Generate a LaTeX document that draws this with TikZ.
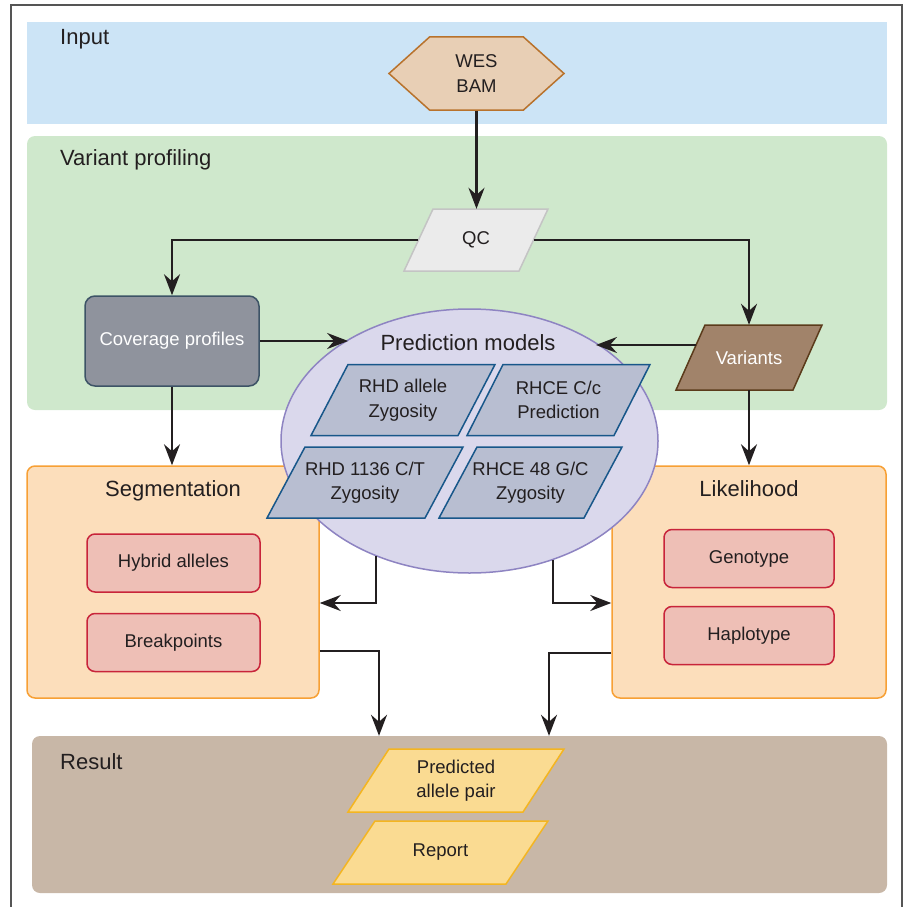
\documentclass[tikz,border=0pt]{standalone}
\usepackage{fontspec}
\setmainfont{Liberation Sans}
\usetikzlibrary{shapes.geometric,shapes.symbols,arrows.meta,calc}
\definecolor{ink}{HTML}{231F20}
\definecolor{framecol}{HTML}{555555}
\definecolor{inbg}{HTML}{CCE4F6}
\definecolor{vpbg}{HTML}{CFE8CC}
\definecolor{resbg}{HTML}{C8B7A7}
\definecolor{segbg}{HTML}{FCDEBB}
\definecolor{segbd}{HTML}{F7A035}
\definecolor{wesbg}{HTML}{E8CFB5}
\definecolor{wesbd}{HTML}{B8722C}
\definecolor{qcbg}{HTML}{EBEBEB}
\definecolor{qcbd}{HTML}{C4C4C4}
\definecolor{covbg}{HTML}{8F939D}
\definecolor{covbd}{HTML}{3D5366}
\definecolor{varbg}{HTML}{A1836A}
\definecolor{varbd}{HTML}{5B3B1B}
\definecolor{pmbg}{HTML}{DAD8EC}
\definecolor{pmbd}{HTML}{8E84C2}
\definecolor{modbg}{HTML}{B8BED1}
\definecolor{modbd}{HTML}{18578A}
\definecolor{redbg}{HTML}{EEBFB6}
\definecolor{redbd}{HTML}{C8243A}
\definecolor{yelbg}{HTML}{FADB92}
\definecolor{yelbd}{HTML}{F4B520}
% parallelogram: name, x, y, width, height, slant, look, text
\newcommand{\pgram}[8]{%
  \path[#7, line width=1.5pt] ({#2-#4/2},{#3+#5/2}) -- ({#2+#4/2-#6},{#3+#5/2})
    -- ({#2+#4/2},{#3-#5/2}) -- ({#2-#4/2+#6},{#3-#5/2}) -- cycle;
  \node (#1) [lbl, minimum width={#4-#6}, minimum height=#5] at (#2,#3) {#8};}
\begin{document}
\begin{tikzpicture}[x=1pt, y=-1pt,
band/.style={fill=#1, rounded corners=8pt, inner sep=0pt},
ttl/.style={font=\fontsize{22}{26}\selectfont, text=ink, inner sep=0pt},
lbl/.style={font=\fontsize{18.5}{24.5}\selectfont, text=ink, align=center, inner sep=0pt},
model/.style={fill=modbg, draw=modbd},
rbox/.style={rectangle, rounded corners=8pt, draw=redbd, fill=redbg, line width=1.5pt, lbl, minimum height=58},
flow/.style={-{Stealth[length=21pt, width=16pt, inset=7pt]}, line width=2.3pt, draw=ink}]
\useasboundingbox (0,0) rectangle (905,907);
%\draw[help lines, step=50] (0,0) grid (905,907);
\draw[line width=2pt, draw=framecol] (11,907) |- (902,5) -- (902,907);
% bands
\node (inp) [band=inbg, rounded corners=0pt, minimum width=860, minimum height=102] at (457,73) {};
\node (vp) [band=vpbg, minimum width=860, minimum height=274] at (457,273) {};
\node (res) [band=resbg, minimum width=855, minimum height=157] at (459.5,814.5) {};
\node (seg) [band=segbg, draw=segbd, line width=1.5pt, minimum width=292, minimum height=232] at (173,582) {};
\node (lik) [band=segbg, draw=segbd, line width=1.5pt, minimum width=274, minimum height=232] at (749,582) {};
\node (inpt) [ttl, anchor=base west] at (60,45) {Input};
\node (vpt) [ttl, anchor=base west] at (60,165) {Variant profiling};
\node (rest) [ttl, anchor=base west] at (60,769) {Result};
\node (segt) [ttl, anchor=base] at (173,496) {Segmentation};
\node (likt) [ttl, anchor=base] at (749,496) {Likelihood};
% input and profiling
\node (wes) [signal, signal to=west and east, signal pointer angle=84, fill=wesbg, draw=wesbd, line width=1.5pt, lbl, minimum width=175, minimum height=73] at (476.5,73.5) {WES\\BAM};
\pgram{qc}{476}{240}{144}{62}{29}{fill=qcbg, draw=qcbd}{QC}
\node (cov) [rectangle, rounded corners=10pt, fill=covbg, draw=covbd, line width=1.5pt, lbl, text=white, minimum width=174, minimum height=90] at (172,341) {Coverage profiles};
\pgram{var}{749}{357.5}{146}{65}{29}{fill=varbg, draw=varbd}{\color{white}Variants}
% prediction models
\node (pm) [ellipse, fill=pmbg, draw=pmbd, line width=1.5pt, inner sep=0pt, minimum width=377, minimum height=264] at (469.5,441) {};
\node (pmt) [ttl, anchor=base] at (468,350) {Prediction models};
\pgram{m1}{403}{400}{184}{71}{37}{model}{RHD allele\\Zygosity}
\pgram{m2}{558.5}{400}{183}{71}{36}{model}{RHCE C/c\\Prediction}
\pgram{m3}{365}{482.5}{196}{71}{38}{model}{RHD 1136 C/T\\Zygosity}
\pgram{m4}{530.5}{482.5}{183}{71}{38}{model}{RHCE 48 G/C\\Zygosity}
% segmentation and likelihood
\node (hyb) [rbox, minimum width=173] at (173.5,563) {Hybrid alleles};
\node (brk) [rbox, minimum width=173] at (173.5,642.5) {Breakpoints};
\node (gen) [rbox, minimum width=170] at (749,558.5) {Genotype};
\node (hap) [rbox, minimum width=170] at (749,635.5) {Haplotype};
% result
\pgram{pap}{456}{780.5}{216}{63}{41}{fill=yelbg, draw=yelbd}{Predicted\\allele pair}
\pgram{rep}{440.5}{852.5}{215}{63}{42}{fill=yelbg, draw=yelbd}{Report}
% connectors
\draw[flow] (wes.south) -- (wes.south |- qc.north);
\draw[flow] (qc.west) -| (cov.north);
\draw[flow] (qc.east) -| (var.north);
\draw[flow] (cov.east) -- (cov.east -| pm.140);
\coordinate (vin) at ($(var.west)+(5.6,-12.5)$);
\draw[flow] (vin) -- (vin -| pm.38);
\draw[flow] (cov.south) -- (cov.south |- seg.north);
\draw[flow] (var.south) -- (var.south |- lik.north);
\draw[flow] (pm.231) |- ([yshift=-21pt]seg.east);
\draw[flow] (pm.305) |- ([yshift=-21pt]lik.west);
\draw[flow] ([yshift=-69pt]seg.east) -| (res.north -| 379,0);
\draw[flow] ([yshift=-71pt]lik.west) -| (res.north -| 549,0);
\end{tikzpicture}
\end{document}
